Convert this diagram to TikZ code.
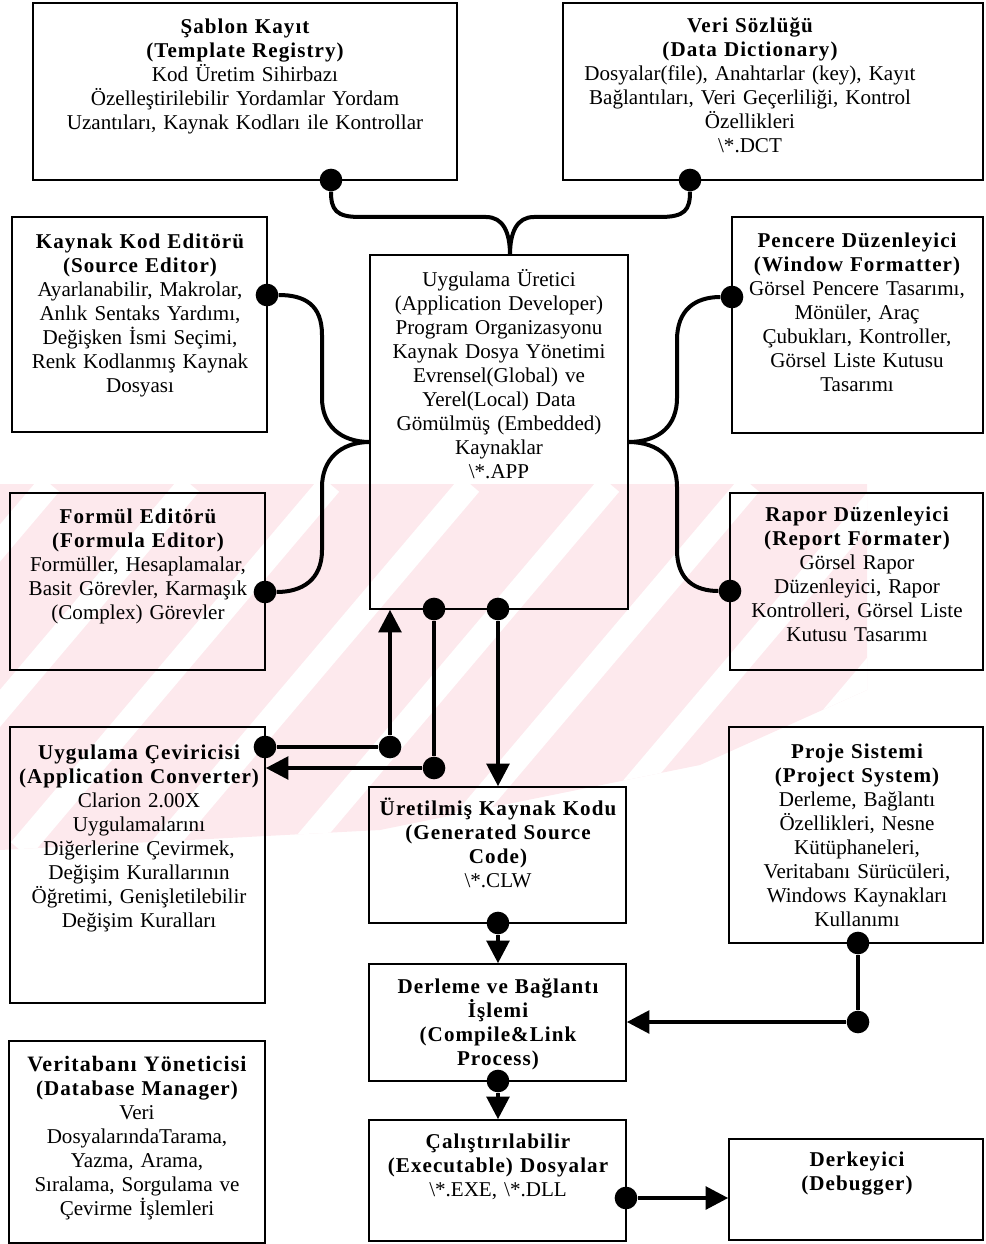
\documentclass[tikz,border=0pt]{standalone}
\usepackage{fontspec}
\setmainfont{Liberation Serif}
\newfontfamily\ttlfont{Liberation Serif}[LetterSpace=5]
\newcommand{\ttl}[1]{{\ttlfont\bfseries #1}}
\usetikzlibrary{positioning, arrows.meta, fit}
\definecolor{wmpink}{RGB}{253,233,237}
\tikzset{
  unit/.style={draw, line width=1.2pt, inner sep=0pt},
  txt/.style={anchor=north, align=center, inner sep=0pt, text width=300pt,
    font=\fontsize{15.8}{18}\selectfont, execute at begin node={\rule{0pt}{14pt}}},
  dot/.style={circle, fill, inner sep=0pt, minimum size=17pt},
  wire/.style={line width=3pt},
  arr/.style={wire, -{Triangle[length=17pt, width=17pt]}},
}

\begin{document}
\begin{tikzpicture}[x=0.75pt,y=0.75pt,yscale=-1,xscale=1]
\useasboundingbox (0,0) rectangle (985,1244);

% Watermark
\begin{scope}
\clip (0,484) -- (867,484) -- (867,690) -- (700,765) -- (380,830) -- (0,850) -- cycle;
\fill[wmpink] (0,484) rectangle (870,850);
\foreach \s in {-260,-120,20,160,300,440,580,720} {
  \draw[white, line width=18pt] (\s,850) -- (\s+310,484);
}
\end{scope}

% Boxes
\node[unit, fit={(33,3) (457,180)}] (sablon) {};
\node[unit, fit={(563,3) (983,180)}] (veri) {};
\node[unit, fit={(12,217) (267,432)}] (kaynak) {};
\node[unit, fit={(370,255) (628,609)}] (uret) {};
\node[unit, fit={(732,217) (983,433)}] (pencere) {};
\node[unit, fit={(10,493) (265,670)}] (formul) {};
\node[unit, fit={(730,493) (983,670)}] (rapor) {};
\node[unit, fit={(10,727) (265,1003)}] (cevirici) {};
\node[unit, fit={(369,787) (626,923)}] (uretilmis) {};
\node[unit, fit={(369,964) (626,1081)}] (derleme) {};
\node[unit, fit={(369,1120) (626,1241)}] (calis) {};
\node[unit, fit={(729,1139) (983,1240)}] (derkeyici) {};
\node[unit, fit={(729,727) (983,943)}] (proje) {};
\node[unit, fit={(9,1041) (265,1243)}] (vtabani) {};

% Text Node
\node[txt] (t-sablon) at (245,15) {\ttl{Şablon Kayıt}\\ \ttl{(Template Registry)}\\ Kod Üretim Sihirbazı\\ Özelleştirilebilir Yordamlar Yordam\\ Uzantıları, Kaynak Kodları ile Kontrollar};
% Text Node
\node[txt] (t-veri) at (750,14) {\ttl{Veri Sözlüğü}\\ \ttl{(Data Dictionary)}\\ Dosyalar(file), Anahtarlar (key), Kayıt\\ Bağlantıları, Veri Geçerliliği, Kontrol\\ Özellikleri\\ \textbackslash*.DCT};
% Text Node
\node[txt] (t-kaynak) at (140,230) {\ttl{Kaynak Kod Editörü}\\ \ttl{(Source Editor)}\\ Ayarlanabilir, Makrolar,\\ Anlık Sentaks Yardımı,\\ Değişken İsmi Seçimi,\\ Renk Kodlanmış Kaynak\\ Dosyası};
% Text Node
\node[txt] (t-uret) at (499,268) {Uygulama Üretici\\ (Application Developer)\\ Program Organizasyonu\\ Kaynak Dosya Yönetimi\\ Evrensel(Global) ve\\ Yerel(Local) Data\\ Gömülmüş (Embedded)\\ Kaynaklar\\ \textbackslash*.APP};
% Text Node
\node[txt] (t-pencere) at (857,229) {\ttl{Pencere Düzenleyici}\\ \ttl{(Window Formatter)}\\ Görsel Pencere Tasarımı,\\ Mönüler, Araç\\ Çubukları, Kontroller,\\ Görsel Liste Kutusu\\ Tasarımı};
% Text Node
\node[txt] (t-formul) at (138,505) {\ttl{Formül Editörü}\\ \ttl{(Formula Editor)}\\ Formüller, Hesaplamalar,\\ Basit Görevler, Karmaşık\\ (Complex) Görevler};
% Text Node
\node[txt] (t-rapor) at (857,503) {\ttl{Rapor Düzenleyici}\\ \ttl{(Report Formater)}\\ Görsel Rapor\\ Düzenleyici, Rapor\\ Kontrolleri, Görsel Liste\\ Kutusu Tasarımı};
% Text Node
\node[txt] (t-cevirici) at (139,741) {\ttl{Uygulama Çeviricisi}\\ \ttl{(Application Converter)}\\ Clarion 2.00X\\ Uygulamalarını\\ Diğerlerine Çevirmek,\\ Değişim Kurallarının\\ Öğretimi, Genişletilebilir\\ Değişim Kuralları};
% Text Node
\node[txt] (t-uretilmis) at (498,797) {\ttl{Üretilmiş Kaynak Kodu}\\ \ttl{(Generated Source}\\ \ttl{Code)}\\ \textbackslash*.CLW};
% Text Node
\node[txt] (t-derleme) at (498,975) {\ttl{Derleme ve Bağlantı}\\ \ttl{İşlemi}\\ \ttl{(Compile\&Link}\\ \ttl{Process)}};
% Text Node
\node[txt] (t-calis) at (498,1130) {\ttl{Çalıştırılabilir}\\ \ttl{(Executable) Dosyalar}\\ \textbackslash*.EXE, \textbackslash*.DLL};
% Text Node
\node[txt] (t-derkeyici) at (857,1148) {\ttl{Derkeyici}\\ \ttl{(Debugger)}};
% Text Node
\node[txt] (t-proje) at (857,740) {\ttl{Proje Sistemi}\\ \ttl{(Project System)}\\ Derleme, Bağlantı\\ Özellikleri, Nesne\\ Kütüphaneleri,\\ Veritabanı Sürücüleri,\\ Windows Kaynakları\\ Kullanımı};
% Text Node
\node[txt] (t-vtabani) at (137,1053) {{\fontsize{16.5}{18}\selectfont\ttl{Veritabanı Yöneticisi}}\\ \ttl{(Database Manager)}\\ Veri\\ DosyalarındaTarama,\\ Yazma, Arama,\\ Sıralama, Sorgulama ve\\ Çevirme İşlemleri};

% Joints
\node[dot] (d-sablon) at (331,180) {};
\node[dot] (d-veri) at (690,180) {};
\node[dot] (d-kaynak) at (267,295) {};
\node[dot] (d-pencere) at (732,297) {};
\node[dot] (d-formul) at (265,592) {};
\node[dot] (d-rapor) at (730,591) {};
\coordinate (y-top) at (510,255);
\coordinate (y-left) at (370,442);
\coordinate (y-right) at (628,442);

% Curved links into the developer box
\draw[wire] (d-sablon) .. controls (331,210) and (336,217) .. (360,217) -- (486,217) .. controls (503,217) and (510,232) .. (y-top);
\draw[wire] (d-veri) .. controls (690,210) and (685,217) .. (660,217) -- (534,217) .. controls (517,217) and (510,232) .. (y-top);
\draw[wire] (d-kaynak) .. controls (305,295) and (322,305) .. (322,335) -- (322,398) .. controls (322,425) and (340,442) .. (y-left);
\draw[wire] (d-formul) .. controls (302,592) and (322,580) .. (322,550) -- (322,487) .. controls (322,460) and (340,442) .. (y-left);
\draw[wire] (d-pencere) .. controls (695,297) and (677,310) .. (677,340) -- (677,398) .. controls (677,425) and (660,442) .. (y-right);
\draw[wire] (d-rapor) .. controls (695,591) and (677,580) .. (677,550) -- (677,487) .. controls (677,460) and (660,442) .. (y-right);

% Converter links
\node[dot] (d-up) at (390,747) {};
\node[dot] (d-cev) at (265,747) {};
\draw[wire] (d-cev) -- (d-up);
\draw[arr] (d-up) -- (uret.south -| d-up);
\node[dot] (d-left) at (434,609) {};
\node[dot] (d-leftb) at (434,768) {};
\draw[wire] (d-left) -- (d-leftb);
\draw[arr] (d-leftb) -- (d-leftb -| cevirici.east);

% Build chain
\node[dot] (d-down) at (498,609) {};
\draw[arr] (d-down) -- (d-down |- uretilmis.north);
\node[dot] (d-uretilmis) at (498,923) {};
\draw[arr] (d-uretilmis) -- (d-uretilmis |- derleme.north);
\node[dot] (d-derleme) at (498,1081) {};
\draw[arr] (d-derleme) -- (d-derleme |- calis.north);
\node[dot] (d-calis) at (626,1198) {};
\draw[arr] (d-calis) -- (d-calis -| derkeyici.west);
\node[dot] (d-proje) at (858,943) {};
\node[dot] (d-projeb) at (858,1022) {};
\draw[wire] (d-proje) -- (d-projeb);
\draw[arr] (d-projeb) -- (d-projeb -| derleme.east);

\end{tikzpicture}
\end{document}
